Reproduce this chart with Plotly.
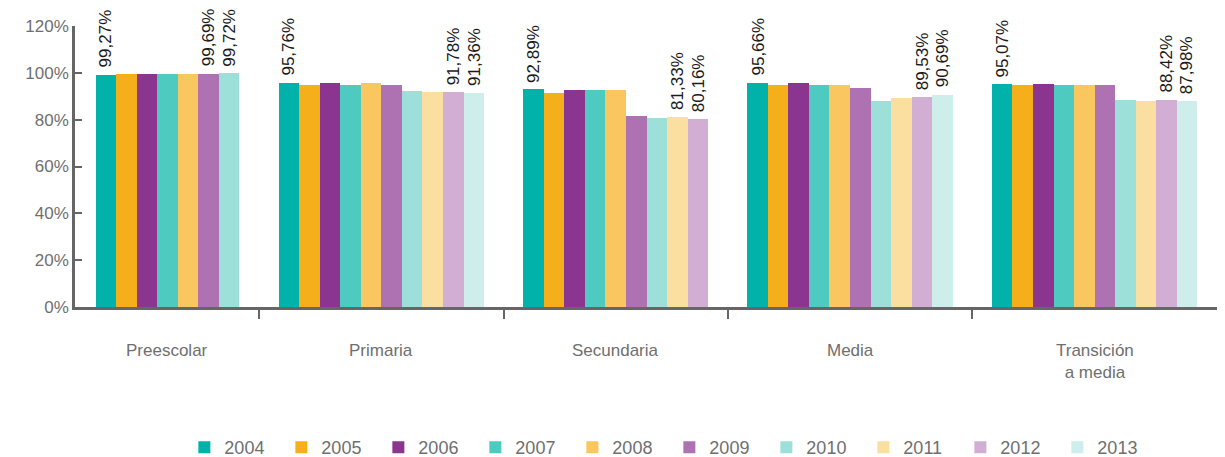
import plotly.graph_objects as go

# ---------------- data ----------------
categories = ["Preescolar", "Primaria", "Secundaria", "Media", "Transición<br>a media"]
years = ["2004", "2005", "2006", "2007", "2008", "2009", "2010", "2011", "2012", "2013"]

v2004 = [99.27, 95.76, 92.89, 95.66, 95.07]
v2005 = [99.30, 94.90, 91.60, 94.60, 94.60]
v2006 = [99.30, 95.80, 92.80, 95.80, 95.40]
v2007 = [99.30, 94.90, 92.80, 94.60, 95.00]
v2008 = [99.30, 95.80, 92.80, 94.60, 94.60]
v2009 = [99.69, 94.90, 81.70, 93.70, 94.60]
v2010 = [99.72, 92.10, 80.90, 88.10, 88.60]
v2011 = [None, 92.00, 81.33, 89.40, 88.10]
v2012 = [None, 91.78, 80.16, 89.53, 88.42]
v2013 = [None, 91.36, None, 90.69, 87.98]

series = [v2004, v2005, v2006, v2007, v2008, v2009, v2010, v2011, v2012, v2013]
colors = ["#00B2A9", "#F5AF1B", "#8B3590", "#4ECAC1", "#F9C660",
          "#AE72B2", "#9CE0D9", "#FBDFA0", "#D2AED5", "#CDEEEA"]

# ---------------- slot layout ----------------
LEAD, GAP = 1.0, 1.9
counts = [sum(1 for s in series if s[g] is not None) for g in range(len(categories))]
starts = []
pos = LEAD
for c in counts:
    starts.append(pos)
    pos += c + GAP
xmax = pos - GAP + LEAD
dividers = [starts[g] + counts[g] + GAP / 2 for g in range(len(categories) - 1)]
edges = [0] + dividers + [xmax]
centers = [(edges[i] + edges[i + 1]) / 2 for i in range(len(categories))]

FONT = "Liberation Sans, Arial, sans-serif"
GREY = "#6f6f6f"

fig = go.Figure()
annotations = []
for j, (yr, s, col) in enumerate(zip(years, series, colors)):
    xs, ys = [], []
    for g, v in enumerate(s):
        if v is None:
            continue
        x = starts[g] + j + 0.5
        xs.append(x)
        ys.append(v)
        if j == 0 or j >= counts[g] - 2:
            annotations.append(dict(
                x=x, y=v, xref="x", yref="y",
                text=f"{v:.2f}%".replace(".", ","),
                textangle=-90, showarrow=False,
                xanchor="center", yanchor="bottom", yshift=5,
                font=dict(family=FONT, size=17, color="#1a1a1a"),
            ))
    fig.add_trace(go.Bar(
        x=xs, y=ys, name=yr, width=1.0,
        marker=dict(color=col, line=dict(width=0)),
        hoverinfo="skip",
    ))

for c, name in zip(centers, categories):
    annotations.append(dict(
        x=c, y=0, xref="x", yref="paper", yshift=-32,
        text=name, showarrow=False, xanchor="center", yanchor="top",
        font=dict(family=FONT, size=17, color=GREY),
    ))

fig.update_layout(
    width=1217, height=449,
    margin=dict(l=67, r=7, t=18, b=150, autoexpand=False),
    paper_bgcolor="white", plot_bgcolor="white",
    barmode="overlay", bargap=0,
    showlegend=True,
    legend=dict(
        orientation="h", x=0.520, xanchor="center", y=-0.5, yanchor="middle",
        font=dict(family=FONT, size=18, color=GREY),
        entrywidth=52, entrywidthmode="pixels", traceorder="normal",
        itemclick=False,
    ),
    annotations=annotations,
    font=dict(family=FONT),
)
fig.update_xaxes(
    range=[0, xmax], showgrid=False, zeroline=False,
    showline=True, linecolor="#666666", linewidth=2.5,
    tickmode="array", tickvals=dividers, ticktext=[""] * len(dividers),
    ticks="outside", ticklen=9, tickwidth=2, tickcolor="#666666",
)
fig.update_yaxes(
    range=[0, 120], dtick=20, ticksuffix="%",
    showgrid=False, zeroline=False,
    showline=True, linecolor="#666666", linewidth=2.5,
    ticks="inside", ticklen=7, tickwidth=2, tickcolor="#666666",
    tickfont=dict(family=FONT, size=17, color=GREY),
)

fig.write_html("out.html")
